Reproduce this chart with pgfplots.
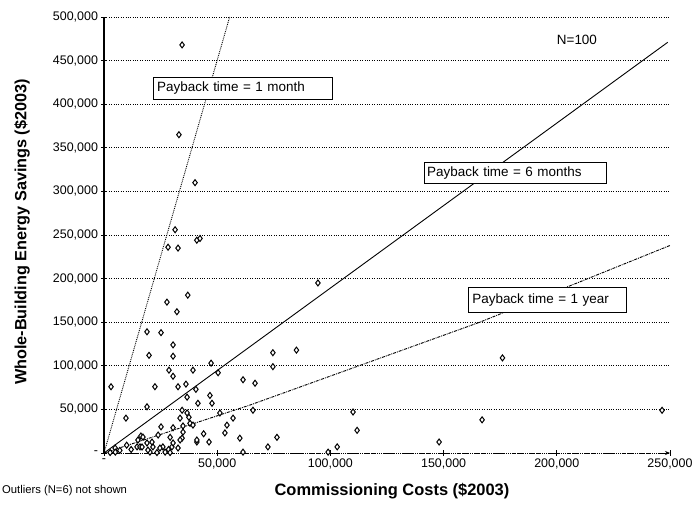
\documentclass[border=0pt]{standalone}
\usepackage{pgfplots}
\pgfplotsset{compat=1.18}
\usepackage{fontspec}
\setmainfont{Liberation Sans}
\usetikzlibrary{arrows.meta}

\pgfplotstableread{
cost savings
34500 468000
33100 365000
40200 310000
31400 256000
28300 236000
32700 235000
41000 244000
42400 246000
37000 181000
27800 173000
32200 162000
19000 139000
25200 138000
19900 112000
30500 124000
30500 111000
28700 95000
30500 88000
39300 95000
47300 103000
50400 92000
3100 76000
22500 76000
32700 76000
36200 79000
40600 73000
36700 64000
46800 66000
41500 57000
19000 53000
34500 49000
36700 46000
37500 41000
9700 40000
33600 40000
25200 30000
30500 29000
34900 31000
38000 34000
54300 32000
57000 40000
53400 23000
16300 19500
23900 20600
29200 18000
34500 17000
41000 12600
46400 12600
60000 17000
76400 18000
74600 115000
74600 99000
85000 118000
61400 84000
66700 80000
19000 11500
21600 7000
26000 7000
30000 7000
32700 5700
14600 7000
4900 5700
2700 500
72400 7000
61400 1000
27000 1000
20300 1000
15900 7000
94500 195000
110000 47000
111800 26000
99000 1000
103000 7000
148000 12600
167000 38000
176000 109000
246500 49000
65800 49000
17200 18300
15000 14900
21200 12600
16800 6900
19400 3400
24700 5700
28500 4000
23400 500
29200 500
30500 11500
33600 14900
34900 24000
39300 32000
47700 57000
41000 14900
51200 45900
5000 1000
7000 3000
10000 9000
12000 4000
44000 22000
}\scatterdata

\begin{document}
\begin{tikzpicture}
\begin{axis}[
  scale only axis, width=566bp, height=436bp,
  xmin=0, xmax=250000, ymin=0, ymax=500000,
  axis y line*=left, axis x line*=bottom,
  y axis line style={line width=1.4bp},
  x axis line style={densely dotted, line width=0.9bp, -{Stealth[length=5bp,width=4bp]}},
  scaled ticks=false,
  xtick={0,50000,100000,150000,200000,250000},
  xticklabels={-,{50,000},{100,000},{150,000},{200,000},{250,000}},
  ytick={0,50000,100000,150000,200000,250000,300000,350000,400000,450000,500000},
  yticklabels={-,{50,000},{100,000},{150,000},{200,000},{250,000},{300,000},{350,000},{400,000},{450,000},{500,000}},
  tick label style={font=\fontsize{12.5}{13.5}\selectfont},
  /pgf/number format/assume math mode=true,
  tick align=center, major tick length=5bp,
  tick style={black, line width=0.8bp, solid},
  ymajorgrids, major grid style={black, dotted, line width=0.8bp},
  clip=false,
]
\coordinate (O) at (rel axis cs:0,0);

\addplot[black, line width=0.9bp, densely dotted] coordinates {(0,0) (55500,500000)};
\addplot[black, line width=0.9bp] coordinates {(0,0) (249000,471000)};
\addplot[black, line width=0.9bp, densely dashdotted] coordinates {(0,0) (64500,55000) (166000,150000) (250000,238000)};

\addplot[only marks, mark=diamond*, mark size=3bp,
  mark options={draw=black, fill=white, line width=1bp, solid}] table[x=cost, y=savings] {\scatterdata};

\node[draw=black, fill=white, line width=0.6bp, anchor=west, text width=171bp, align=left,
  inner sep=4bp, minimum height=22bp, font=\fontsize{13.5}{14}\selectfont]
  at (axis cs:21600,418600) {Payback time = 1 month};
\node[draw=black, fill=white, line width=0.6bp, anchor=west, text width=176bp, align=left,
  inner sep=3bp, minimum height=21bp, font=\fontsize{13.5}{14}\selectfont]
  at (axis cs:141300,321100) {Payback time = 6 months};
\node[draw=black, fill=white, line width=0.6bp, anchor=west, text width=150bp, align=left,
  inner sep=4bp, minimum height=25bp, font=\fontsize{13.5}{14}\selectfont]
  at (axis cs:160800,175500) {Payback time = 1 year};
\node[font=\fontsize{13.5}{14}\selectfont] at (axis cs:208900,473600) {N=100};
\end{axis}

\node[font=\fontsize{16.5}{18}\selectfont\bfseries] at ([shift={(288bp,-38bp)}]O) {Commissioning Costs (\$2003)};
\node[font=\fontsize{16.3}{18}\selectfont\bfseries, rotate=90] at ([shift={(-82bp,221bp)}]O) {Whole-Building Energy Savings (\$2003)};
\node[font=\fontsize{11.3}{12}\selectfont, anchor=west, inner sep=0pt] at ([shift={(-102bp,-38bp)}]O) {Outliers (N=6) not shown};

\pgfresetboundingbox
\path ([shift={(-104bp,-59bp)}]O) rectangle ([shift={(588bp,453bp)}]O);
\end{tikzpicture}
\end{document}
